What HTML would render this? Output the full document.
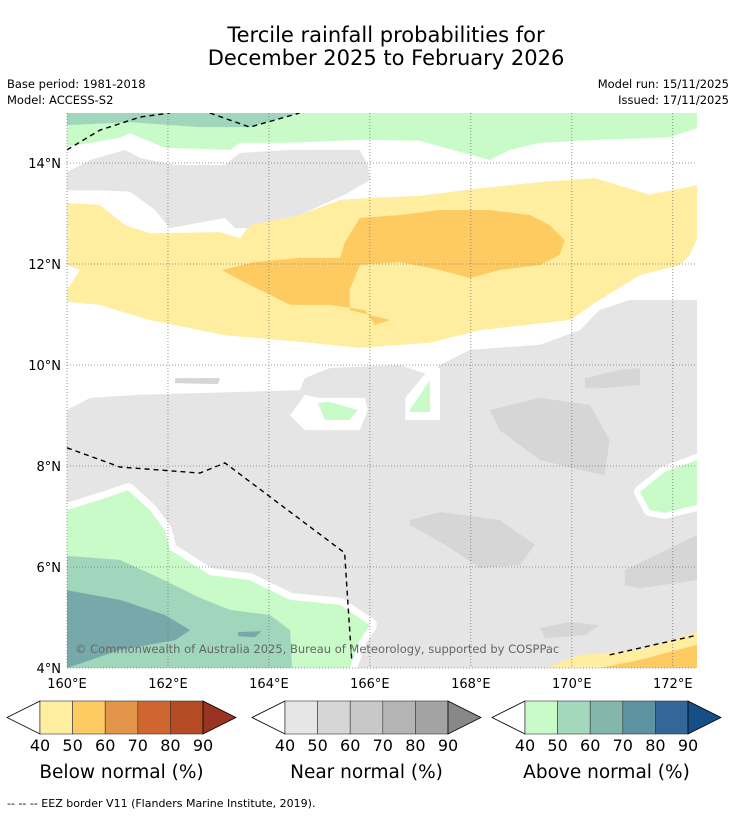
<!DOCTYPE html>
<html><head><meta charset="utf-8">
<style>
body{margin:0;background:#fff;width:736px;height:816px;overflow:hidden;font-family:"Liberation Sans","DejaVu Sans",sans-serif;}
svg text{font-family:"DejaVu Sans","Liberation Sans",sans-serif;}
</style></head>
<body>
<svg id="chart" width="736" height="816" xmlns="http://www.w3.org/2000/svg">
<text x="386" y="42" text-anchor="middle" font-size="21">Tercile rainfall probabilities for</text>
<text x="386" y="65" text-anchor="middle" font-size="21">December 2025 to February 2026</text>
<text x="7" y="88" font-size="11.5">Base period: 1981-2018</text>
<text x="7" y="104" font-size="11.5">Model: ACCESS-S2</text>
<text x="729" y="88" font-size="11.5" text-anchor="end">Model run: 15/11/2025</text>
<text x="729" y="104" font-size="11.5" text-anchor="end">Issued: 17/11/2025</text>
<g id="map"></g>
<g id="axes"></g>
<text x="75" y="653" font-size="11.5" fill="#666">© Commonwealth of Australia 2025, Bureau of Meteorology, supported by COSPPac</text>
<g id="cbars"></g>
<text x="7" y="807" font-size="11">--  --  -- EEZ border V11 (Flanders Marine Institute, 2019).</text>
</svg>
<script>
// axis ticks
const lonTicks=[160,162,164,166,168,170,172];
const latTicks=[4,6,8,10,12,14];
// contour polygons [lon,lat]
const greenTop=[[160,14.99],[172.48,14.99],[172.48,14.69],[171.94,14.51],[170.55,14.46],[169.37,14.40],[168.77,14.26],[168.38,14.06],[167.78,14.22],[166.99,14.44],[165.80,14.46],[164.42,14.40],[163.43,14.40],[163.23,14.26],[161.94,14.30],[161.25,14.59],[161.05,14.50],[160,14.32]];
const tealTop=[[160,14.99],[164.61,14.99],[163.62,14.71],[162.63,14.71],[161.25,14.81],[160,14.75]];
const grayUpper=[[160,13.82],[160.46,14.06],[161.15,14.26],[161.45,14.10],[162.14,13.96],[163.13,13.96],[163.43,14.20],[164.42,14.26],[165.80,14.26],[165.96,13.96],[166,13.66],[165.50,13.37],[164.61,12.97],[164.02,12.71],[163.33,12.71],[163.13,12.91],[162.04,12.71],[161.74,13.07],[161.25,13.43],[160.65,13.46],[160,13.46]];
const yellowBand=[[160,13.21],[160.65,13.17],[161.15,12.77],[161.64,12.61],[163.03,12.63],[163.43,12.51],[163.62,12.77],[164.61,12.97],[165.41,13.27],[166,13.31],[166.99,13.35],[168.18,13.50],[169.37,13.62],[170.46,13.70],[171.54,13.37],[172.48,13.56],[172.48,12.51],[172.34,12.18],[172.14,11.98],[171.35,11.78],[170.55,11.29],[169.96,10.89],[168.18,10.69],[167.19,10.44],[165.80,10.34],[164.61,10.46],[163.13,10.59],[162.63,10.69],[161.64,10.89],[160.65,11.19],[160,11.25],[160,11.49],[160.26,11.88],[160,11.98]];
const orangeBlob=[[163.07,11.88],[163.72,12.04],[164.61,12.12],[165.41,12.12],[165.50,12.42],[165.80,12.91],[166.59,12.97],[167.39,13.07],[168.38,13.07],[169.17,12.97],[169.56,12.77],[169.86,12.47],[169.76,12.18],[169.37,11.98],[168.57,11.88],[167.98,11.72],[167.39,11.88],[166.59,12.04],[165.80,11.98],[165.60,11.49],[165.60,11.09],[166.40,10.89],[166.10,10.79],[165.90,11.09],[165.21,11.19],[164.42,11.19],[164.02,11.39],[163.43,11.68]];
const grayLower=[[160,9.11],[160.46,9.35],[161.45,9.41],[164.61,9.50],[164.71,9.74],[165.21,9.94],[166.59,10.00],[167.19,9.80],[167.39,10.00],[167.98,10.30],[169.37,10.40],[170.16,10.69],[170.55,11.09],[171.15,11.29],[172.48,11.29],[172.48,8.12],[171.74,7.72],[171.25,7.43],[171.54,7.13],[172.48,7.23],[172.48,6.53],[172.48,4.65],[171.35,4.36],[170.55,4.26],[169.76,4],[165.70,4],[165.80,4.85],[165.21,5.35],[164.02,5.54],[163.62,5.78],[162.63,5.94],[161.94,6.44],[161.64,6.93],[161.25,7.52],[160.46,7.23],[160,7.13]];
const whiteHalo1=[[164.71,9.41],[164.97,9.35],[165.90,9.35],[165.96,9.11],[165.80,8.71],[164.71,8.71],[164.42,9.00]];
const whiteHalo2=[[166.70,9.35],[167.19,9.94],[167.39,9.94],[167.39,8.91],[166.70,8.91]];
const greenPatch1=[[164.97,9.25],[165.21,9.27],[165.76,9.11],[165.60,8.91],[165.11,8.91]];
const greenPatch2=[[166.79,9.11],[167.19,9.70],[167.19,9.07],[166.79,9.07]];
const dgray1=[[168.38,9.11],[169.37,9.35],[170.36,9.21],[170.75,8.51],[170.65,7.82],[170.16,7.92],[169.37,8.12],[168.57,8.71]];
const dgray2=[[166.79,6.93],[167.39,7.09],[168.57,6.93],[169.27,6.44],[168.97,6.04],[168.18,5.98],[167.49,6.44],[166.79,6.83]];
const dgray3=[[170.26,9.74],[170.95,9.90],[171.35,9.94],[171.35,9.60],[170.55,9.54],[170.26,9.54]];
const dgray4=[[171.05,5.94],[172.48,6.63],[172.48,5.74],[171.35,5.58],[171.05,5.64]];
const dgray5=[[169.37,4.79],[169.96,4.91],[170.55,4.85],[170.26,4.65],[169.47,4.59]];
const dgray6=[[162.14,9.74],[163.03,9.74],[162.99,9.62],[162.14,9.64]];
const greenBL=[[160,7.13],[160.65,7.33],[161.21,7.52],[161.64,7.13],[161.94,6.73],[162.04,6.34],[162.83,5.84],[163.62,5.74],[164.42,5.35],[165.41,5.25],[166,4.85],[165.80,4.55],[165.60,4],[160,4]];
const tealBL=[[160,6.22],[161.05,6.14],[161.84,5.78],[162.63,5.39],[163.23,5.15],[164.02,5.05],[164.42,4.75],[164.46,4],[160,4]];
const dtealBL=[[160,5.54],[161.05,5.35],[161.94,5.05],[162.44,4.75],[162.14,4.55],[161.05,4.36],[160,4]];
const tealSmall=[[163.39,4.71],[163.86,4.73],[163.72,4.61],[163.39,4.63]];
const greenRight=[[171.35,7.49],[171.84,7.88],[172.48,8.12],[172.48,7.23],[171.84,7.07],[171.54,7.13]];
const yellowBR=[[169.47,4],[170.16,4.26],[171.35,4.36],[172.48,4.71],[172.48,4]];
const orangeBR=[[170.55,4],[171.35,4.16],[172.48,4.46],[172.48,4]];
const eezA=[[160,14.26],[160.65,14.65],[161.45,14.91],[162.04,14.99]];
const eezB=[[162.83,14.99],[163.62,14.71],[164.61,14.99]];
const eezC=[[160,8.36],[161.05,7.98],[162.63,7.86],[163.13,8.06],[165.50,6.28],[165.56,5.35],[165.64,4.16]];
const eezD=[[170.75,4.26],[172.48,4.65]];

const X0=67,X1=697,Y0=113,Y1=668,LON0=160,LON1=172.48,LAT0=4,LAT1=14.99;
const sx=lon=>X0+(lon-LON0)/(LON1-LON0)*(X1-X0);
const sy=lat=>Y1-(lat-LAT0)/(LAT1-LAT0)*(Y1-Y0);
const NS="http://www.w3.org/2000/svg";
const map=document.getElementById('map');
const clip=document.createElementNS(NS,'clipPath');clip.setAttribute('id','mapclip');
const cr=document.createElementNS(NS,'rect');cr.setAttribute('x',X0);cr.setAttribute('y',Y0);cr.setAttribute('width',X1-X0);cr.setAttribute('height',Y1-Y0);
clip.appendChild(cr);map.appendChild(clip);map.setAttribute('clip-path','url(#mapclip)');
function poly(pts,fill,name,halo){
  const p=document.createElementNS(NS,'polygon');
  p.setAttribute('points',pts.map(q=>sx(q[0])+','+sy(q[1])).join(' '));
  p.setAttribute('fill',fill);
  if(halo){p.setAttribute('stroke','#fff');p.setAttribute('stroke-width',halo);p.setAttribute('stroke-linejoin','round');p.setAttribute('paint-order','stroke');}
  
  
  map.appendChild(p);
}
function line(pts,name){
  const p=document.createElementNS(NS,'polyline');
  p.setAttribute('points',pts.map(q=>sx(q[0])+','+sy(q[1])).join(' '));
  p.setAttribute('fill','none');p.setAttribute('stroke','#000');p.setAttribute('stroke-width','1.4');p.setAttribute('stroke-dasharray','5,4');
  
  
  map.appendChild(p);
}
poly(greenTop,'#c9fbc9','above-normal-40-top');
poly(tealTop,'#a0d6bc','above-normal-50-top');
poly(grayUpper,'#e5e5e5','near-normal-40-upper');
poly(yellowBand,'#ffeda0','below-normal-40-band');
poly(orangeBlob,'#fecb63','below-normal-50-blob');
poly(grayLower,'#e5e5e5','near-normal-40-lower');
poly(whiteHalo1,'#fff','white-gap-1');
poly(whiteHalo2,'#fff','white-gap-2');
poly(greenPatch1,'#c9fbc9','above-normal-patch-1');
poly(greenPatch2,'#c9fbc9','above-normal-patch-2');
[dgray1,dgray2,dgray3,dgray4,dgray5,dgray6].forEach((d,i)=>poly(d,'#d6d6d6','near-normal-50-patch-'+(i+1)));
poly(greenBL,'#c9fbc9','above-normal-40-southwest',14);
poly(tealBL,'#a0d6bc','above-normal-50-southwest');
poly(dtealBL,'#77a9aa','above-normal-60-southwest');
poly(tealSmall,'#77a9aa','above-normal-60-small');
poly(greenRight,'#c9fbc9','above-normal-40-east',12);
poly(yellowBR,'#ffeda0','below-normal-40-southeast');
poly(orangeBR,'#fecb63','below-normal-50-southeast');
line(eezA,'eez-border-nw');line(eezB,'eez-border-north');line(eezC,'eez-border-west');line(eezD,'eez-border-se');

const ax=document.getElementById('axes');
lonTicks.forEach(v=>{
  const l=document.createElementNS(NS,'line');
  l.setAttribute('x1',sx(v));l.setAttribute('x2',sx(v));l.setAttribute('y1',Y0);l.setAttribute('y2',Y1);
  l.setAttribute('stroke','#777');l.setAttribute('stroke-width','0.8');l.setAttribute('stroke-dasharray','1,2');
  
  
  ax.appendChild(l);
  const t=document.createElementNS(NS,'text');
  t.setAttribute('x',sx(v));t.setAttribute('y',688);t.setAttribute('text-anchor','middle');t.setAttribute('font-size','13');
  t.textContent=v+'°E';
  
  
  ax.appendChild(t);
});
latTicks.forEach(v=>{
  const l=document.createElementNS(NS,'line');
  l.setAttribute('x1',X0);l.setAttribute('x2',X1);l.setAttribute('y1',sy(v));l.setAttribute('y2',sy(v));
  l.setAttribute('stroke','#777');l.setAttribute('stroke-width','0.8');l.setAttribute('stroke-dasharray','1,2');
  
  
  ax.appendChild(l);
  const t=document.createElementNS(NS,'text');
  t.setAttribute('x',61);t.setAttribute('y',sy(v)+5);t.setAttribute('text-anchor','end');t.setAttribute('font-size','13');
  t.textContent=v+'°N';
  
  
  ax.appendChild(t);
});

// colorbars
const cbLevels=[40,50,60,70,80,90];
const cbTitles=['Below normal (%)','Near normal (%)','Above normal (%)'];
const cbColors=[['#ffeda0','#fecb63','#e3954a','#d0662f','#b44b25','#993322'],['#e6e6e6','#d6d6d6','#c8c8c8','#b4b4b4','#a3a3a3','#888888'],['#c9fbc9','#a3d8bd','#83b7ae','#5d92a0','#336799','#154f86']];
const cbStart=[40,285,525];
const cb=document.getElementById('cbars');
cbStart.forEach((x0,k)=>{
  const w=32.6,top=701,bot=734,mid=717.5,x1=x0+w*5;
  const g=document.createElementNS(NS,'g');
  
  
  cb.appendChild(g);
  const lt=document.createElementNS(NS,'polygon');
  lt.setAttribute('points',`${x0},${top} ${x0-33},${mid} ${x0},${bot}`);lt.setAttribute('fill','#fff');lt.setAttribute('stroke','#000');lt.setAttribute('stroke-width','0.8');
  g.appendChild(lt);
  for(let i=0;i<5;i++){
    const r=document.createElementNS(NS,'rect');
    r.setAttribute('x',x0+i*w);r.setAttribute('y',top);r.setAttribute('width',w);r.setAttribute('height',bot-top);
    r.setAttribute('fill',cbColors[k][i]);r.setAttribute('stroke','#333');r.setAttribute('stroke-width','0.6');
    g.appendChild(r);
  }
  const rt=document.createElementNS(NS,'polygon');
  rt.setAttribute('points',`${x1},${top} ${x1+33},${mid} ${x1},${bot}`);rt.setAttribute('fill',cbColors[k][5]);rt.setAttribute('stroke','#000');rt.setAttribute('stroke-width','0.8');
  g.appendChild(rt);
  cbLevels.forEach((v,i)=>{
    const t=document.createElementNS(NS,'text');
    t.setAttribute('x',x0+i*w);t.setAttribute('y',751);t.setAttribute('text-anchor','middle');t.setAttribute('font-size','16');
    t.textContent=v;
    
    
    g.appendChild(t);
  });
  const tt=document.createElementNS(NS,'text');
  tt.setAttribute('x',x0+w*2.5);tt.setAttribute('y',778);tt.setAttribute('text-anchor','middle');tt.setAttribute('font-size','18.5');
  tt.textContent=cbTitles[k];
  
  
  g.appendChild(tt);
});
</script>
</body></html>
